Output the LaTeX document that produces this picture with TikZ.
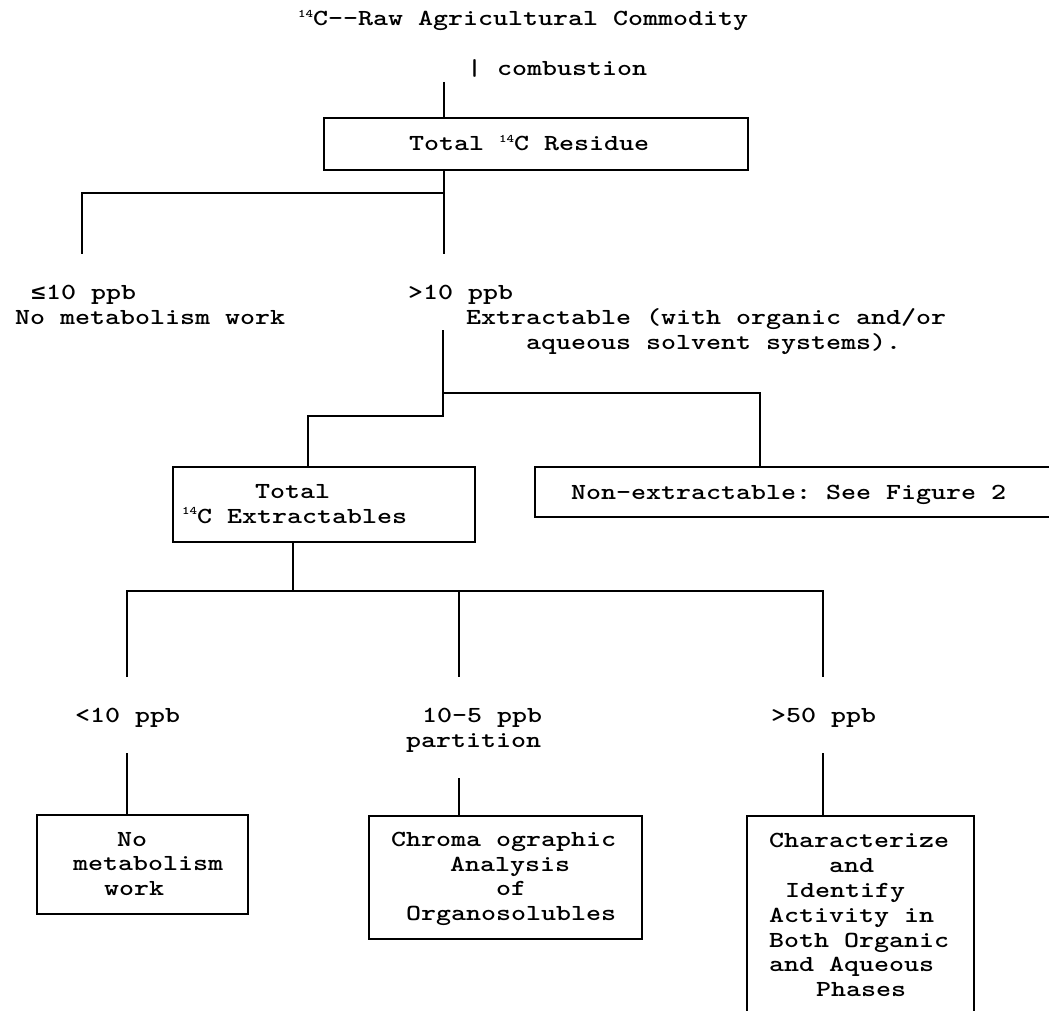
\documentclass[tikz,border=0pt]{standalone}
\usepackage{fontspec}
\newfontfamily\libmono{Liberation Mono}
\newcommand\isosup{\raisebox{8.5pt}{\fontsize{11.5}{11.5}\selectfont 14}}
\newcommand\tw[1]{\scalebox{1.242}[1]{#1}}
\newcommand\lesym{{\libmono\fontsize{20}{20}\selectfont ≤}}
\begin{document}
\begin{tikzpicture}[x=1pt,y=-1pt,
  txt/.style={anchor=base west,inner sep=0pt,font=\ttfamily\bfseries\fontsize{23}{23}\selectfont\frenchspacing},
  box/.style={draw,line width=1.8pt,anchor=north west,inner sep=0pt},
  conn/.style={line width=1.8pt}]
\useasboundingbox (0,0) rectangle (1049,1011);
\clip (0,0) rectangle (1049,1011);
\fill[white] (0,0) rectangle (1049,1011);

% top
\node[txt] (title) at (298,26) {\tw{\isosup C-{}-Raw Agricultural Commodity}};
\node[txt] (comb) at (467,76) {\tw{| combustion}};
\coordinate (ctop) at (444,82);
\node[box,minimum width=424pt,minimum height=52pt] (res) at (323,117) {};
\node[txt] (restxt) at (409,151) {\tw{Total \isosup C Residue}};
\draw[conn] (ctop) -- (ctop |- res.north);

\coordinate (j1) at (444,193);
\coordinate (e1) at (82,254);
\coordinate (e2) at (444,254);
\draw[conn] (j1 |- res.south) -- (e2);
\draw[conn] (j1) -| (e1);

\node[txt] (le10) at (31,299) {\tw{\makebox[12pt][l]{\lesym}10 ppb}};
\node[txt] (nmw) at (15,324) {\tw{No metabolism work}};
\node[txt] (gt10) at (408,299) {\tw{>10 ppb}};
\node[txt] (ext1) at (466,324) {\tw{Extractable (with organic and/or}};
\node[txt] (ext2) at (526,349) {\tw{aqueous solvent systems).}};

% second level
\coordinate (s2) at (443,330);
\coordinate (j2) at (443,393);
\coordinate (j3) at (443,416);
\coordinate (k1) at (308,0);
\coordinate (k2) at (760,0);
\node[box,minimum width=302pt,minimum height=75pt] (tex) at (172,466) {};
\node[box,minimum width=530pt,minimum height=50pt] (non) at (534,466) {};
\draw[conn] (s2) -- (j3) -| (k1 |- tex.north);
\draw[conn] (j2) -| (k2 |- non.north);

\node[txt] (tex1) at (255,498) {\tw{Total}};
\node[txt] (tex2) at (182,523) {\tw{\isosup C Extractables}};
\node[txt] (non1) at (571,499) {\tw{Non-extractable: See Figure 2}};

% third level
\coordinate (k3) at (293,0);
\coordinate (j4) at (293,591);
\coordinate (e3) at (127,677);
\coordinate (e4) at (459,677);
\coordinate (e5) at (823,677);
\draw[conn] (k3 |- tex.south) -- (j4);
\draw[conn] (e3) |- (e5 |- j4) -- (e5);
\draw[conn] (e4 |- j4) -- (e4);

\node[txt] (lt10) at (75,722) {\tw{<10 ppb}};
\node[txt] (mid1) at (422,722) {\tw{10-5 ppb}};
\node[txt] (mid2) at (406,747) {\tw{partition}};
\node[txt] (gt50) at (771,722) {\tw{>50 ppb}};

% bottom boxes
\node[box,minimum width=211pt,minimum height=99pt] (bl) at (36,814) {};
\node[box,minimum width=273pt,minimum height=123pt] (bm) at (368,815) {};
\node[box,minimum width=227pt,minimum height=240pt] (br) at (746,815) {};
\coordinate (s3) at (127,753);
\coordinate (s4) at (459,778);
\coordinate (s5) at (823,753);
\draw[conn] (s3) -- (s3 |- bl.north);
\draw[conn] (s4) -- (s4 |- bm.north);
\draw[conn] (s5) -- (s5 |- br.north);

\node[txt] (bl1) at (117,846) {\tw{No}};
\node[txt] (bl2) at (73,870) {\tw{metabolism}};
\node[txt] (bl3) at (104,895) {\tw{work}};

\node[txt] (bm1) at (391,846) {\tw{Chroma ographic}};
\node[txt] (bm2) at (450,871) {\tw{Analysis}};
\node[txt] (bm3) at (496,895) {\tw{of}};
\node[txt] (bm4) at (406,920) {\tw{Organosolubles}};

\node[txt] (br1) at (769,847) {\tw{Characterize}};
\node[txt] (br2) at (829,872) {\tw{and}};
\node[txt] (br3) at (785,897) {\tw{Identify}};
\node[txt] (br4) at (769,922) {\tw{Activity in}};
\node[txt] (br5) at (769,947) {\tw{Both Organic}};
\node[txt] (br6) at (769,971) {\tw{and Aqueous}};
\node[txt] (br7) at (816,996) {\tw{Phases}};
\end{tikzpicture}
\end{document}
